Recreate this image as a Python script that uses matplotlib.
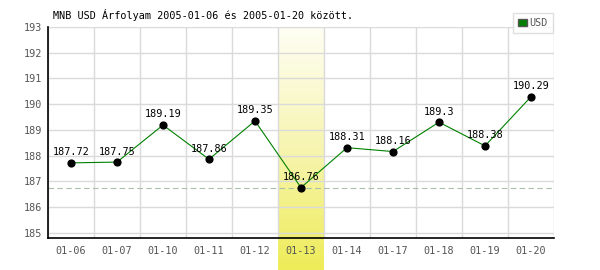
import numpy as np
import matplotlib.pyplot as plt
from matplotlib.colors import LinearSegmentedColormap

dates = ["01-06", "01-07", "01-10", "01-11", "01-12", "01-13",
         "01-14", "01-17", "01-18", "01-19", "01-20"]
values = [187.72, 187.75, 189.19, 187.86, 189.35, 186.76,
          188.31, 188.16, 189.3, 188.38, 190.29]
value_labels = ["187.72", "187.75", "189.19", "187.86", "189.35", "186.76",
                "188.31", "188.16", "189.3", "188.38", "190.29"]
highlight = "01-13"

plt.rcParams['font.family'] = ['DejaVu Sans Mono']

fig = plt.figure(figsize=(6, 2.7), dpi=100)
ax_l, ax_b, ax_w, ax_h = 48/600, 32/270, 506/600, 211/270
ax = fig.add_axes([ax_l, ax_b, ax_w, ax_h])
ax.patch.set_alpha(0)

n = len(dates)
hi = dates.index(highlight)
# yellow gradient column behind the highlighted day
bg = fig.add_axes([ax_l + ax_w * hi / n, 0, ax_w / n, ax_b + ax_h], zorder=-1)
cmap = LinearSegmentedColormap.from_list("hl", ["#fefef4", "#f7f5b0", "#eeec58"])
bg.imshow(np.linspace(0, 1, 100).reshape(-1, 1), aspect="auto", cmap=cmap,
          extent=(0, 1, 0, 1), origin="upper")
bg.axis("off")

x = np.arange(n)
ax.plot(x, values, color="#008000", lw=0.8, zorder=3)
ax.scatter(x, values, s=24, color="black", zorder=4)
for xi, v, t in zip(x, values, value_labels):
    ax.annotate(t, (xi, v), xytext=(0, 4), textcoords="offset points",
                ha="center", va="bottom", fontsize=7.3, color="black", zorder=5)

ax.axhline(min(values), color="#a8c0a8", lw=0.8, ls=(0, (5, 3)), zorder=2)

ax.set_xlim(-0.5, n - 0.5)
ax.set_ylim(184.8, 193)
ax.set_yticks(range(185, 194))
ax.set_xticks(x)
ax.set_xticklabels(dates)
ax.set_xticks(np.arange(-0.5, n, 1), minor=True)
ax.grid(True, which="minor", axis="x", color="#dadada", lw=1)
ax.grid(True, which="major", axis="y", color="#dadada", lw=1)
ax.tick_params(which="both", length=0, labelsize=7.3, colors="#555555", pad=6)
ax.tick_params(axis="y", pad=4)
for s in ["top", "right"]:
    ax.spines[s].set_visible(False)
for s in ["left", "bottom"]:
    ax.spines[s].set_linewidth(1.2)

fig.text(53/600, 1 - 15/270, "MNB USD Árfolyam 2005-01-06 és 2005-01-20 között.",
         fontsize=7.3, va="center", ha="left", color="black")

leg = ax.legend([plt.Rectangle((0, 0), 1, 1, fc="#008000", ec="#555555")], ["USD"],
                loc="upper right", bbox_to_anchor=(553/600, 1 - 13/270),
                bbox_transform=fig.transFigure, borderaxespad=0,
                fontsize=7.3, frameon=True,
                fancybox=False, handlelength=0.8, handleheight=0.8,
                handletextpad=0.3, borderpad=0.5, labelcolor="#555555")
leg.get_frame().set_edgecolor("#d8d8d8")
leg.get_frame().set_linewidth(1)

fig.savefig("out.png", dpi=100)
